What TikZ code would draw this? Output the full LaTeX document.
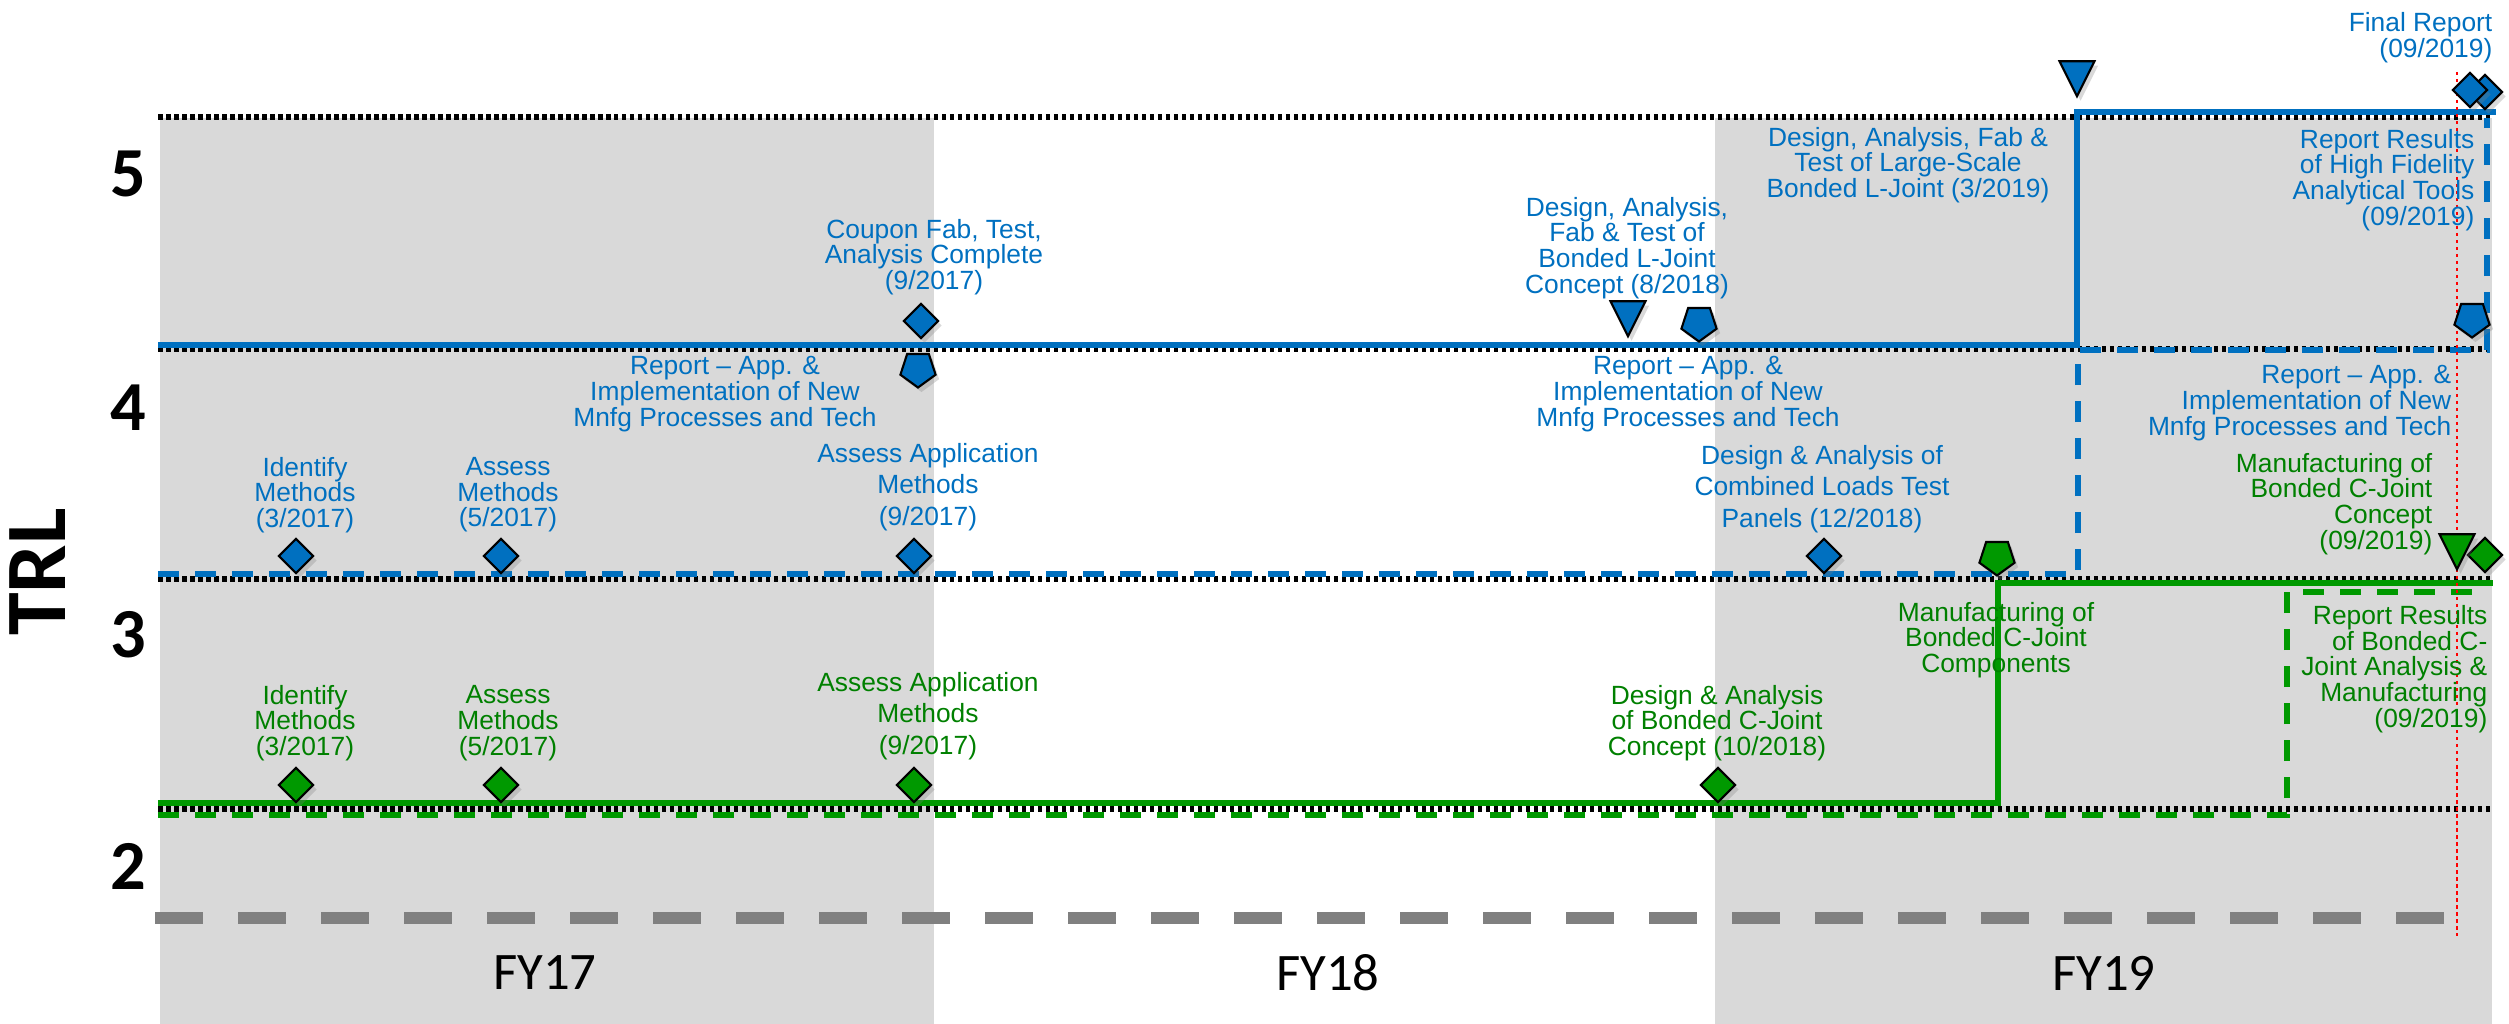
\documentclass[tikz,border=0pt]{standalone}
\usepackage{fontspec}
\setmainfont{Liberation Sans}
\newfontfamily\carlito{Carlito}
\usetikzlibrary{shapes.geometric,shadows}

\definecolor{trlblue}{RGB}{0,112,192}
\definecolor{trlgreen}{RGB}{0,153,0}
\definecolor{trlgreentext}{RGB}{0,128,0}
\definecolor{bandgray}{RGB}{217,217,217}
\definecolor{axisgray}{RGB}{128,128,128}

\begin{document}
\begin{tikzpicture}[
    x=0.1mm, y=-0.1mm,
    band/.style={fill=bandgray, draw=none},
    level/.style={black, line width=1.7pt, dash pattern=on 0.45mm off 0.35mm},
    plan/.style={line width=1.6pt},
    replan/.style={line width=1.45pt, dash pattern=on 2.1mm off 1.6mm},
    marker/.style={
        draw=black,
        line width=0.6pt,
        inner sep=0pt,
        drop shadow={shadow xshift=0.35mm, shadow yshift=-0.45mm, opacity=0.3}
    },
    dmd/.style={marker, diamond, minimum width=3.5mm, minimum height=3.5mm},
    pent/.style={marker, regular polygon, regular polygon sides=5, shape border rotate=180, minimum size=3.7mm},
    tri/.style={marker, isosceles triangle, isosceles triangle stretches, shape border rotate=270,
        minimum width=3.5mm, minimum height=3.5mm, anchor=apex},
    lbl/.style={inner sep=0pt, align=center, font=\fontsize{7.5}{7.3}\selectfont},
    wide/.style={font=\fontsize{7.5}{9}\selectfont},
    rlbl/.style={lbl, align=right, anchor=east},
    trlnum/.style={font=\carlito\bfseries\fontsize{20}{24}\selectfont},
    fy/.style={font=\carlito\fontsize{15}{18}\selectfont}
]
\useasboundingbox (0,0) rectangle (2509,1024);

\fill[band] (160,118) rectangle (934,1024);
\fill[band] (1715,118) rectangle (2492,1024);

\foreach \y in {117,349,579,809}
    \draw[level] (158,\y) -- (2493,\y);
\draw[axisgray, line width=3.4pt, dash pattern=on 4.8mm off 3.5mm] (155,918) -- (2472,918);

\node[trlnum] (l5) at (128,174) {5};
\node[trlnum] (l4) at (128,408) {4};
\node[trlnum] (l3) at (128,635) {3};
\node[trlnum] (l2) at (128,866) {2};
\node[font=\carlito\bfseries\fontsize{24.5}{29}\selectfont, rotate=90] (trl) at (38,572) {TRL};

\node[fy] (fy17) at (545,973) {FY17};
\node[fy] (fy18) at (1328,973) {FY18};
\node[fy] (fy19) at (2104,973) {FY19};

% planned and re-planned paths
\coordinate (bs0) at (158,345);
\coordinate (bs1) at (2077,345);
\coordinate (bs2) at (2077,112);
\coordinate (bs3) at (2496,112);
\coordinate (bd0) at (158,574);
\coordinate (bd1) at (2078,574);
\coordinate (bd2) at (2078,350);
\coordinate (bd3) at (2487,350);
\coordinate (bd4) at (2487,118);
\coordinate (gs0) at (158,803);
\coordinate (gs1) at (1998,803);
\coordinate (gs2) at (1998,583);
\coordinate (gs3) at (2493,583);
\coordinate (gd0) at (158,815);
\coordinate (gd1) at (2287,815);
\coordinate (gd2) at (2287,592);
\coordinate (gd3) at (2484,592);

\draw[trlblue, replan] (bd0) -- (bd1) -- (bd2) -- (bd3) -- (bd4);
\draw[trlblue, plan] (bs0) -- (bs1) -- (bs2) -- (bs3);
\draw[trlgreen, replan] (gd0) -- (gd1) -- (gd2) -- (gd3);
\draw[trlgreen, plan] (gs0) -- (gs1) -- (gs2) -- (gs3);

\coordinate (now0) at (2457,72);
\coordinate (now1) at (2457,936);
\draw[red, line width=0.5pt, dash pattern=on 0.35mm off 0.35mm] (now0) -- (now1);

% blue labels
\node[lbl, text=trlblue] (b-id) at (305,495) {Identify\\Methods\\(3/2017)};
\node[lbl, text=trlblue] (b-as) at (508,495) {Assess\\Methods\\(5/2017)};
\node[lbl, wide, text=trlblue] (b-app) at (928,487) {Assess Application\\Methods\\(9/2017)};
\node[lbl, text=trlblue] (b-cpn) at (934,257) {Coupon Fab, Test,\\Analysis Complete\\(9/2017)};
\node[lbl, text=trlblue] (b-rep1) at (725,394) {Report -- App. \&\\Implementation of New\\Mnfg Processes and Tech};
\node[lbl, text=trlblue] (b-lj) at (1627,248) {Design, Analysis,\\Fab \& Test of\\Bonded L-Joint\\Concept (8/2018)};
\node[lbl, text=trlblue] (b-rep2) at (1688,394) {Report -- App. \&\\Implementation of New\\Mnfg Processes and Tech};
\node[lbl, wide, text=trlblue] (b-cl) at (1822,489) {Design \& Analysis of\\Combined Loads Test\\Panels (12/2018)};
\node[lbl, text=trlblue] (b-ls) at (1908,165) {Design, Analysis, Fab \&\\Test of Large-Scale\\Bonded L-Joint (3/2019)};
\node[rlbl, text=trlblue] (b-fin) at (2493,38) {Final Report\\(09/2019)};
\node[rlbl, text=trlblue] (b-hf) at (2475,180) {Report Results\\of High Fidelity\\Analytical Tools\\(09/2019)};
\node[rlbl, text=trlblue] (b-rep3) at (2452,403) {Report -- App. \&\\Implementation of New\\Mnfg Processes and Tech};

% green labels
\node[lbl, text=trlgreentext] (g-id) at (305,723) {Identify\\Methods\\(3/2017)};
\node[lbl, text=trlgreentext] (g-as) at (508,723) {Assess\\Methods\\(5/2017)};
\node[lbl, wide, text=trlgreentext] (g-app) at (928,716) {Assess Application\\Methods\\(9/2017)};
\node[lbl, text=trlgreentext] (g-cj) at (1717,723) {Design \& Analysis\\of Bonded C-Joint\\Concept (10/2018)};
\node[lbl, text=trlgreentext] (g-mfc) at (1996,640) {Manufacturing of\\Bonded C-Joint\\Components};
\node[rlbl, text=trlgreentext] (g-mcc) at (2433,504) {Manufacturing of\\Bonded C-Joint\\Concept\\(09/2019)};
\node[rlbl, text=trlgreentext] (g-rr) at (2488,669) {Report Results\\of Bonded C-\\Joint Analysis \&\\Manufacturing\\(09/2019)};

% blue markers
\node[dmd, fill=trlblue] (mb-id) at (296,556) {};
\node[dmd, fill=trlblue] (mb-as) at (501,556) {};
\node[dmd, fill=trlblue] (mb-app) at (914,556) {};
\node[dmd, fill=trlblue] (mb-cl) at (1824,556) {};
\node[dmd, fill=trlblue] (mb-cpn) at (921,321) {};
\node[pent, fill=trlblue] (mb-rep1) at (918,369) {};
\node[tri, fill=trlblue] (mb-lj) at (1628,339) {};
\node[pent, fill=trlblue] (mb-rep2) at (1699,323) {};
\node[tri, fill=trlblue] (mb-ls) at (2077,99) {};
\node[dmd, fill=trlblue] (mb-fin2) at (2485,92) {};
\node[dmd, fill=trlblue] (mb-fin1) at (2470,90) {};
\node[pent, fill=trlblue] (mb-hf) at (2472,319) {};

% green markers
\node[dmd, fill=trlgreen] (mg-id) at (296,785) {};
\node[dmd, fill=trlgreen] (mg-as) at (501,785) {};
\node[dmd, fill=trlgreen] (mg-app) at (914,785) {};
\node[dmd, fill=trlgreen] (mg-cj) at (1718,785) {};
\node[pent, fill=trlgreen] (mg-mfc) at (1997,557) {};
\node[dmd, fill=trlgreen] (mg-rr) at (2485,555) {};
\node[tri, fill=trlgreen] (mg-mcc) at (2457,572) {};

\end{tikzpicture}
\end{document}
